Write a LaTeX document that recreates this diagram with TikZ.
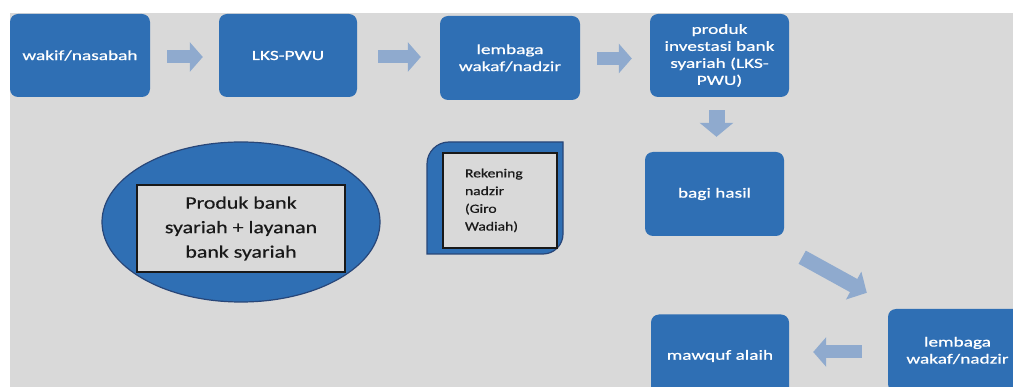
\documentclass[tikz,border=0pt]{standalone}
\usepackage{fontspec}
\setmainfont{Carlito}
\newfontfamily\boxfont[FakeStretch=1.38,FakeBold=0.7]{Carlito}
\newfontfamily\ellfont[FakeStretch=1.25,FakeBold=0.6]{Carlito}
\usetikzlibrary{arrows.meta,shapes.geometric}
\definecolor{bgray}{RGB}{217,217,217}
\definecolor{boxblue}{RGB}{47,111,180}
\definecolor{arrowblue}{RGB}{143,170,206}
\definecolor{darkblue}{RGB}{40,70,120}
\definecolor{inktext}{RGB}{25,25,25}
\begin{document}
\begin{tikzpicture}[x=1pt,y=-1pt,
  flowbox/.style={rectangle, rounded corners=8pt, fill=boxblue, text=white,
    font=\boxfont\fontsize{14}{17}\selectfont, align=center, inner sep=0pt},
  blockarrow/.style={draw=arrowblue, line width=#1, line cap=butt},
  hz/.style={blockarrow=13pt, -{Triangle[length=13pt,width=29pt]}},
  vt/.style={blockarrow=16pt, -{Triangle[length=14pt,width=33pt]}},
  dg/.style={blockarrow=15pt, -{Triangle[length=15pt,width=31pt]}},
  innerbox/.style={rectangle, draw=inktext, line width=1.3pt, fill=bgray, text=inktext, inner sep=0pt}
]
\useasboundingbox (0,0) rectangle (1013,387);
\clip (0,0) rectangle (1013,387);
\fill[white] (0,0) rectangle (1013,387);
\fill[bgray] (10,13) rectangle (1013,387);

% top row
\node[flowbox, minimum width=140pt, minimum height=83pt] (wakif) at (80,55.5) {wakif/nasabah};
\node[flowbox, minimum width=138pt, minimum height=83pt] (lks) at (288,55.5) {LKS-PWU};
\node[flowbox, minimum width=140pt, minimum height=84pt] (lem1) at (510,58) {lembaga\\wakaf/nadzir};
\node[flowbox, minimum width=139pt, minimum height=83pt] (prod) at (719.5,55.5) {produk\\investasi bank\\syariah (LKS-\\PWU)};
\node[flowbox, minimum width=139pt, minimum height=84pt] (bagi) at (714.5,194) {bagi hasil};
\node[flowbox, minimum width=139pt, minimum height=83pt] (lem2) at (957.5,350.5) {lembaga\\wakaf/nadzir};
\node[flowbox, minimum width=138pt, minimum height=83pt] (maw) at (720,356) {mawquf alaih};

% block arrows
\draw[hz, shorten <=17pt, shorten >=16pt] ([yshift=-1.5pt]wakif.east) -- ([yshift=-1.5pt]wakif.east -| lks.west);
\draw[hz, shorten <=21pt, shorten >=19pt] ([yshift=-1.5pt]lks.east) -- ([yshift=-1.5pt]lks.east -| lem1.west);
\draw[hz, shorten <=17pt, shorten >=18pt] ([yshift=-0.5pt]lem1.east) -- ([yshift=-0.5pt]lem1.east -| prod.west);
\draw[vt, shorten <=13pt, shorten >=15pt] ([xshift=-3pt]prod.south) -- ([xshift=-3pt]prod.south |- bagi.north);
\draw[dg] ([shift={(18,21)}]bagi.south east) -- ([shift={(-21,-16)}]lem2.north west);
\draw[hz, shorten <=26pt, shorten >=24pt] ([yshift=-1.5pt]lem2.west) -- ([yshift=-1.5pt]lem2.west -| maw.east);

% ellipse with product box
\node[ellipse, fill=boxblue, draw=darkblue, line width=1.2pt, minimum width=278pt, minimum height=160pt] (ell) at (241,222) {};
\node[innerbox, minimum width=208pt, minimum height=87pt, align=center,
  font=\ellfont\fontsize{17.5}{24.5}\selectfont] (prodtext) at (241,228.5) {Produk bank\\syariah + layanan\\bank syariah};

% rekening shape
\filldraw[fill=boxblue, draw=darkblue, line width=1.2pt]
  (427,254) -- (427,164) arc[start angle=180, end angle=270, radius=22]
  -- (563,142) -- (563,234) arc[start angle=0, end angle=90, radius=20] -- cycle;
\node[innerbox, minimum width=114pt, minimum height=95pt, text width=70pt, align=left,
  font=\ellfont\fontsize{12.5}{17.7}\selectfont] (rek) at (500,200.5) {Rekening\\nadzir\\(Giro\\Wadiah)};
\end{tikzpicture}
\end{document}
